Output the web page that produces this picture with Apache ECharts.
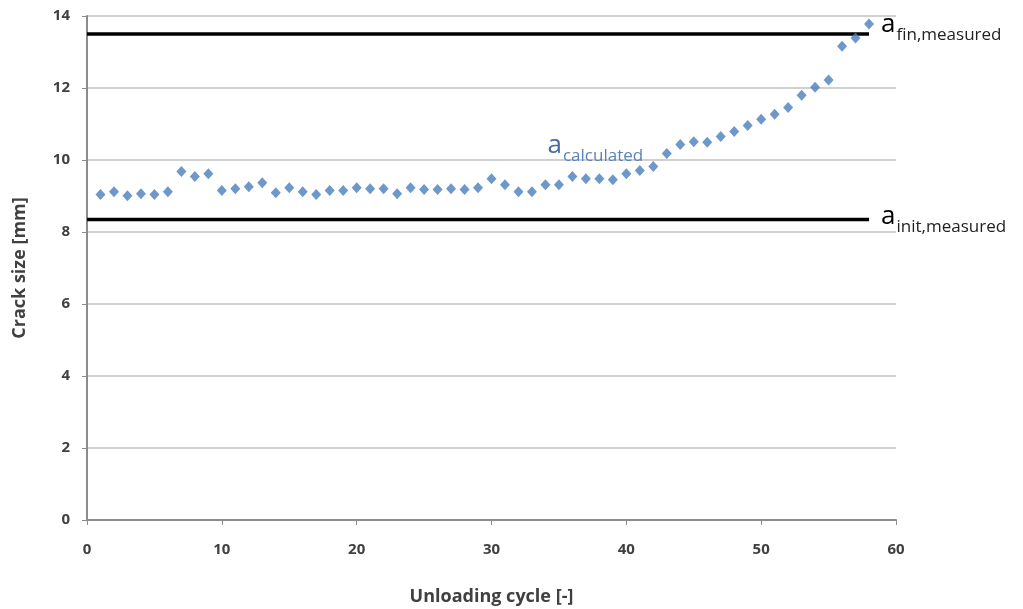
<!DOCTYPE html>
<html><head><meta charset="utf-8">
<script src="https://cdn.jsdelivr.net/npm/echarts@6/dist/echarts.min.js"></script>
<style>html,body{margin:0;padding:0;background:#fff}#c{width:1023px;height:609px}</style>
</head><body><div id="c"></div>
<script>
const cycles = [1,2,3,4,5,6,7,8,9,10,11,12,13,14,15,16,17,18,19,20,21,22,23,24,25,26,27,28,29,30,31,32,33,34,35,36,37,38,39,40,41,42,43,44,45,46,47,48,49,50,51,52,53,54,55,56,57,58];
const crackCalc = [9.04,9.12,9.01,9.06,9.04,9.12,9.68,9.54,9.62,9.15,9.20,9.26,9.37,9.09,9.23,9.12,9.04,9.15,9.15,9.23,9.20,9.20,9.06,9.23,9.18,9.18,9.20,9.18,9.23,9.48,9.31,9.12,9.12,9.31,9.31,9.54,9.48,9.48,9.45,9.62,9.71,9.82,10.18,10.43,10.51,10.49,10.65,10.79,10.96,11.13,11.27,11.46,11.80,12.02,12.22,13.16,13.39,13.78];
const finMeasured = 13.5;
const initMeasured = 8.35;
const lineSpan = [0, 58];
const xTicks = [0,10,20,30,40,50,60];
const yTicks = [0,2,4,6,8,10,12,14];

const font = '"Open Sans", sans-serif';
const txt = '#404040';
const richSub = (c1, c2) => ({
  a: {fontSize: 26, color: c1, fontFamily: font, verticalAlign: 'bottom', lineHeight: 28},
  s: {fontSize: 17, color: c2, fontFamily: font, verticalAlign: 'bottom', lineHeight: 16, padding: [0,0,-6,1]}
});

const chart = echarts.init(document.getElementById('c'), null, {renderer: 'canvas'});
chart.setOption({
  animation: false,
  grid: {left: 87, right: 127, top: 16, bottom: 89, containLabel: false, outerBoundsMode: 'none'},
  xAxis: {
    type: 'value', min: xTicks[0], max: xTicks[xTicks.length-1], interval: 10,
    name: 'Unloading cycle [-]', nameLocation: 'middle', nameGap: 68,
    nameTextStyle: {fontSize: 18, fontWeight: 'bold', color: txt, fontFamily: font},
    axisLine: {lineStyle: {color: '#8c8c8c', width: 2}},
    axisTick: {show: true, length: 5, lineStyle: {color: '#8c8c8c', width: 1}},
    axisLabel: {fontSize: 15, fontWeight: 'bold', color: txt, fontFamily: font, margin: 22},
    splitLine: {show: false}
  },
  yAxis: {
    type: 'value', min: yTicks[0], max: yTicks[yTicks.length-1], interval: 2,
    name: 'Crack size [mm]', nameLocation: 'middle', nameGap: 58, nameRotate: 90,
    nameTextStyle: {fontSize: 18, fontWeight: 'bold', color: txt, fontFamily: font},
    axisLine: {show: true, lineStyle: {color: '#8c8c8c', width: 2}},
    axisTick: {show: true, length: 5, lineStyle: {color: '#8c8c8c', width: 1}},
    axisLabel: {fontSize: 15, fontWeight: 'bold', color: txt, fontFamily: font, margin: 17},
    splitLine: {show: true, lineStyle: {color: '#c0c0c0', width: 1.5}}
  },
  series: [
    {
      type: 'line', data: lineSpan.map(x => [x, finMeasured]), symbol: 'none',
      lineStyle: {color: '#000', width: 3.5}, z: 3,
      endLabel: {show: true, distance: 12, formatter: '{a|a}{s|fin,measured}', rich: richSub('#000', '#222'), offset: [0, -10]}
    },
    {
      type: 'line', data: lineSpan.map(x => [x, initMeasured]), symbol: 'none',
      lineStyle: {color: '#000', width: 3.5}, z: 3,
      endLabel: {show: true, distance: 12, formatter: '{a|a}{s|init,measured}', rich: richSub('#000', '#222'), offset: [0, -4]}
    },
    {
      type: 'scatter', data: cycles.map((c, i) => [c, crackCalc[i]]),
      symbol: 'diamond', symbolSize: [10, 11], itemStyle: {color: '#4a7ebb'}, z: 4,
      markPoint: {
        symbol: 'circle', symbolSize: 0,
        data: [{coord: [37.7, 10.43]}],
        label: {show: true, position: 'inside', formatter: '{a|a}{s|calculated}', rich: richSub('#4a6aa0', '#5b82bd')}
      }
    }
  ]
});
</script></body></html>
